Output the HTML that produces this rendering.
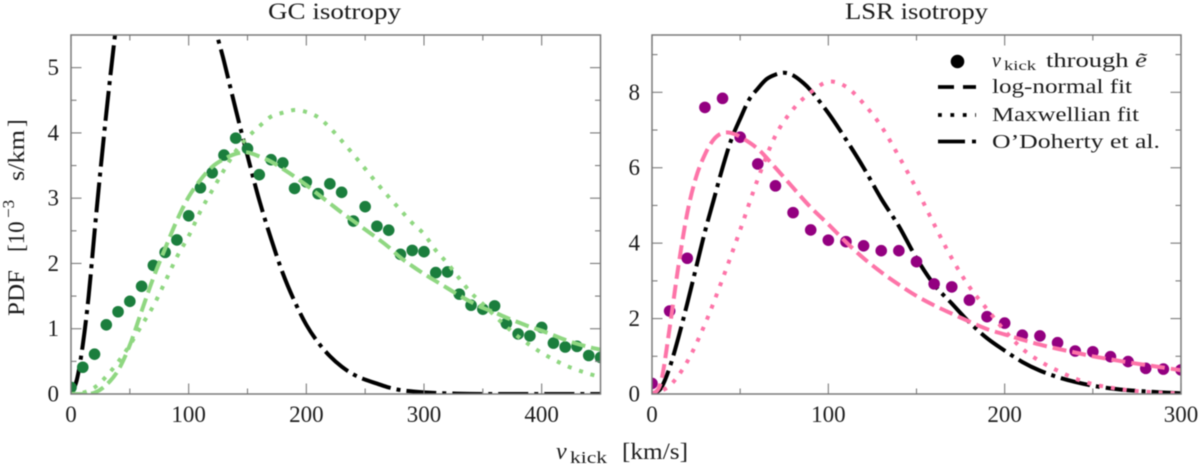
<!DOCTYPE html>
<html lang="en">
<head>
<meta charset="utf-8">
<title>Kick velocity PDF</title>
<style>
html,body{margin:0;padding:0;background:#fff;width:1200px;height:467px;overflow:hidden}
svg{display:block;filter:blur(0.4px)}
text{font-family:"Liberation Serif",serif;fill:#1c1c1c}
.tick{font-size:23px}
.leg{font-size:20px}
</style>
</head>
<body>
<svg id="chart" xmlns="http://www.w3.org/2000/svg" width="1200" height="467" viewBox="0 0 1200 467">
  <defs>
    <clipPath id="clip-left"><rect x="71" y="35" width="529.5" height="359"/></clipPath>
    <clipPath id="clip-right"><rect x="652" y="35" width="529" height="359"/></clipPath>
  </defs>
  <text x="268" y="19" font-size="23" textLength="133" lengthAdjust="spacingAndGlyphs">GC isotropy</text>
  <text x="845" y="19" font-size="23" textLength="143" lengthAdjust="spacingAndGlyphs">LSR isotropy</text>

  <g transform="translate(24,0) rotate(-90)">
    <text x="-316" y="0" font-size="23" textLength="46" lengthAdjust="spacingAndGlyphs">PDF</text>
    <text x="-252" y="0" font-size="23">[10</text>
    <text x="-218" y="-10" font-size="17">−3</text>
    <text x="-181" y="0" font-size="23" textLength="51" lengthAdjust="spacingAndGlyphs">s/km</text>
    <text x="-127" y="0" font-size="23">]</text>
  </g>

  <g>
    <text x="556" y="459" font-size="24" font-style="italic">v</text>
    <text x="570" y="463" font-size="17" textLength="37" lengthAdjust="spacingAndGlyphs">kick</text>
    <text x="622" y="459" font-size="23" textLength="66" lengthAdjust="spacingAndGlyphs">[km/s]</text>
  </g>

  <g id="left-panel"></g>
  <g id="right-panel"></g>

  <g>
    <circle cx="957.5" cy="61.5" r="6.8" fill="#000"/>
    <line x1="938" y1="87" x2="976" y2="87" stroke="#000" stroke-width="3.8" stroke-dasharray="16 9"/>
    <line x1="938" y1="115" x2="976" y2="115" stroke="#000" stroke-width="3.8" stroke-dasharray="3.8 8.6"/>
    <line x1="938" y1="141.5" x2="976" y2="141.5" stroke="#000" stroke-width="3.8" stroke-dasharray="27 7 4 30"/>
    <g>
      <text x="992" y="67" font-size="20" font-style="italic">v</text>
      <text x="1004" y="70" font-size="14" textLength="32" lengthAdjust="spacingAndGlyphs">kick</text>
      <text x="1046" y="67" class="leg" textLength="101" lengthAdjust="spacingAndGlyphs">through <tspan font-style="italic">ẽ</tspan></text>
    </g>
    <text x="992" y="93" class="leg" textLength="140" lengthAdjust="spacingAndGlyphs">log-normal fit</text>
    <text x="992" y="121" class="leg" textLength="147" lengthAdjust="spacingAndGlyphs">Maxwellian fit</text>
    <text x="992" y="148" class="leg" textLength="168" lengthAdjust="spacingAndGlyphs">O’Doherty et al.</text>
  </g>
</svg>
<script>
// ---------- GC isotropy data ----------
const gcDotSpeeds = [0,10,20,30,40,50,60,70,80,90,100,110,120,130,140,150,160,170,180,190,200,210,220,230,240,250,260,270,280,290,300,310,320,330,340,350,360,370,380,390,400,410,420,430,440,450];
const gcDotValues = [0.10,0.41,0.61,1.06,1.26,1.42,1.65,1.97,2.17,2.36,2.73,3.16,3.39,3.66,3.92,3.76,3.36,3.59,3.54,3.15,3.25,3.07,3.22,3.09,2.65,2.87,2.57,2.51,2.14,2.20,2.18,1.86,1.87,1.53,1.36,1.30,1.35,1.08,0.92,0.89,1.02,0.78,0.72,0.73,0.59,0.56];
const gcFitSpeeds = [0,10,20,30,40,50,60,70,80,90,100,110,120,130,140,150,160,170,180,190,200,210,220,230,240,250,260,270,280,290,300,310,320,330,340,350,360,370,380,390,400,410,420,430,440,450];
const gcLogNormal = [0,0,0.02,0.14,0.36,0.75,1.27,1.78,2.23,2.66,3.02,3.28,3.48,3.60,3.68,3.70,3.64,3.56,3.45,3.33,3.20,3.06,2.92,2.78,2.65,2.52,2.39,2.25,2.09,1.96,1.84,1.73,1.62,1.51,1.41,1.32,1.25,1.17,1.10,1.03,0.97,0.90,0.83,0.77,0.72,0.68];
const gcMaxwellian = [0,0.02,0.10,0.27,0.49,0.75,1.05,1.35,1.72,2.10,2.42,2.80,3.12,3.43,3.72,3.93,4.10,4.25,4.31,4.35,4.32,4.24,4.08,3.88,3.67,3.45,3.23,3.02,2.82,2.62,2.45,2.20,2.00,1.77,1.55,1.38,1.20,1.03,0.88,0.75,0.63,0.53,0.44,0.37,0.31,0.26];
const gcBlackSpeeds = [0,5,10,15,20,25,30,35,40,50,70,90,110,120,130,140,150,160,170,180,190,200,210,220,230,240,250,260,270,280,290,300,320,350,450];
const gcBlackValues = [0,0.22,0.75,1.50,2.48,3.42,4.30,5.12,5.85,7.00,8.60,8.60,6.80,5.80,5.10,4.36,3.65,2.97,2.38,1.85,1.42,1.06,0.79,0.58,0.42,0.30,0.22,0.16,0.10,0.06,0.04,0.025,0.01,0,0];
const gcXMajorTicks = [0,100,200,300,400];
const gcXMinorTicks = [50,150,250,350];
const gcYMajorTicks = [0,1,2,3,4,5];
const gcYMinorTicks = [0.5,1.5,2.5,3.5,4.5];

// ---------- LSR isotropy data ----------
const lsrDotSpeeds = [0,10,20,30,40,50,60,70,80,90,100,110,120,130,140,150,160,170,180,190,200,210,220,230,240,250,260,270,280,290,300];
const lsrDotValues = [0.28,2.20,3.60,7.60,7.84,6.81,6.10,5.52,4.81,4.35,4.08,4.04,3.93,3.80,3.80,3.51,2.92,2.84,2.49,2.05,1.88,1.56,1.54,1.36,1.14,1.12,0.99,0.86,0.68,0.66,0.64];
const lsrLogSpeeds = [0,5,10,15,20,25,30,35,40,45,50,60,70,80,90,100,110,120,130,140,150,160,170,180,190,200,210,220,230,240,250,260,270,280,290,300];
const lsrLogNormal = [0,0.30,1.75,3.40,4.80,5.75,6.35,6.75,6.92,6.92,6.82,6.50,6.00,5.47,4.95,4.50,4.03,3.60,3.23,2.90,2.60,2.35,2.13,1.92,1.72,1.58,1.44,1.31,1.20,1.10,1.00,0.92,0.84,0.77,0.70,0.63];
const lsrMaxSpeeds = [0,10,20,30,40,50,60,70,80,90,100,110,120,130,140,150,160,170,180,190,200,210,220,230,240,250,260,270,280,290,300];
const lsrMaxwellian = [0,0.22,0.86,1.85,3.05,4.35,5.70,6.85,7.55,8.00,8.28,8.15,7.70,7.10,6.30,5.44,4.50,3.60,2.84,2.25,1.68,1.20,0.87,0.62,0.41,0.26,0.17,0.10,0.06,0.03,0.02];
const lsrBlackSpeeds = [0,5,10,15,20,25,30,35,40,45,50,55,60,65,70,75,80,85,90,100,110,120,130,140,150,160,170,180,190,200,210,220,230,240,250,260,270,280,290,300];
const lsrBlackValues = [0,0.15,0.70,1.50,2.40,3.35,4.30,5.15,6.00,6.75,7.30,7.80,8.10,8.35,8.47,8.52,8.45,8.28,8.05,7.45,6.75,6.00,5.18,4.45,3.60,2.90,2.40,1.90,1.48,1.15,0.85,0.62,0.45,0.32,0.22,0.15,0.10,0.07,0.04,0.02];
const lsrXMajorTicks = [0,100,200,300];
const lsrXMinorTicks = [50,150,250];
const lsrYMajorTicks = [0,2,4,6,8];
const lsrYMinorTicks = [1,3,5,7,9];

const NS = 'http://www.w3.org/2000/svg';
const AXIS_COLOR = '#7a7a7a';

function mk(parent, tag, attrs) {
  const el = document.createElementNS(NS, tag);
  for (const k in attrs) el.setAttribute(k, attrs[k]);
  parent.appendChild(el);
  return el;
}

function smoothPath(xs, ys, sx, sy) {
  const p = xs.map((x, i) => [sx(x), sy(ys[i])]);
  let d = 'M' + p[0][0].toFixed(2) + ' ' + p[0][1].toFixed(2);
  for (let i = 0; i < p.length - 1; i++) {
    const a = p[Math.max(i - 1, 0)], b = p[i], c = p[i + 1], e = p[Math.min(i + 2, p.length - 1)];
    const c1x = b[0] + (c[0] - a[0]) / 6, c1y = b[1] + (c[1] - a[1]) / 6;
    const c2x = c[0] - (e[0] - b[0]) / 6, c2y = c[1] - (e[1] - b[1]) / 6;
    d += 'C' + c1x.toFixed(2) + ' ' + c1y.toFixed(2) + ' ' + c2x.toFixed(2) + ' ' + c2y.toFixed(2) + ' ' + c[0].toFixed(2) + ' ' + c[1].toFixed(2);
  }
  return d;
}

function drawPanel(cfg) {
  const g = cfg.group;
  const sx = v => cfg.left + v / cfg.xMax * (cfg.right - cfg.left);
  const sy = v => cfg.bottom - v / cfg.yMax * (cfg.bottom - cfg.top);
  const plot = mk(g, 'g', { 'clip-path': 'url(#' + cfg.clip + ')' });
  
  

  const black = mk(plot, 'path', { d: smoothPath(cfg.blackX, cfg.blackY, sx, sy), fill: 'none', stroke: '#000', 'stroke-width': 4, 'stroke-dasharray': '30 6 4 6' });
  
  

  const dots = mk(plot, 'g', { fill: cfg.dotColor });
  
  
  cfg.dotX.forEach((x, i) => {
    const c = mk(dots, 'circle', { cx: sx(x), cy: sy(cfg.dotY[i]), r: 5.8 });
    
    
  });

  const logn = mk(plot, 'path', { d: smoothPath(cfg.logX, cfg.logY, sx, sy), fill: 'none', stroke: cfg.fitColor, 'stroke-width': 4, 'stroke-dasharray': '14 6' });
  
  

  const maxw = mk(plot, 'path', { d: smoothPath(cfg.maxX, cfg.maxY, sx, sy), fill: 'none', stroke: cfg.fitColor, 'stroke-width': 4, 'stroke-dasharray': '4 8' });
  
  

  const ticks = mk(g, 'g', { stroke: AXIS_COLOR, 'stroke-width': 1.1 });
  
  
  const xt = (v, len) => {
    mk(ticks, 'line', { x1: sx(v), x2: sx(v), y1: cfg.bottom, y2: cfg.bottom - len });
    mk(ticks, 'line', { x1: sx(v), x2: sx(v), y1: cfg.top, y2: cfg.top + len });
  };
  const yt = (v, len) => {
    mk(ticks, 'line', { y1: sy(v), y2: sy(v), x1: cfg.left, x2: cfg.left + len });
    mk(ticks, 'line', { y1: sy(v), y2: sy(v), x1: cfg.right, x2: cfg.right - len });
  };
  cfg.xMajor.forEach(v => xt(v, 10.5));
  cfg.xMinor.forEach(v => xt(v, 5.5));
  cfg.yMajor.forEach(v => yt(v, 10.5));
  cfg.yMinor.forEach(v => yt(v, 5.5));

  const frame = mk(g, 'rect', { x: cfg.left, y: cfg.top, width: cfg.right - cfg.left, height: cfg.bottom - cfg.top, fill: 'none', stroke: AXIS_COLOR, 'stroke-width': 1.5 });
  
  

  cfg.xMajor.forEach(v => {
    const t = mk(g, 'text', { x: sx(v), y: 422, 'text-anchor': 'middle', class: 'tick' });
    
    
    t.textContent = v;
  });
  cfg.yMajor.forEach(v => {
    const t = mk(g, 'text', { x: cfg.left - 12, y: sy(v) + 7.5, 'text-anchor': 'end', class: 'tick' });
    
    
    t.textContent = v;
  });
}

drawPanel({
  group: document.getElementById('left-panel'), prefix: 'gc', clip: 'clip-left',
  left: 71, right: 600.5, top: 35, bottom: 394, xMax: 450, yMax: 5.5,
  dotColor: '#1b7e3d', fitColor: '#8fd781',
  dotX: gcDotSpeeds, dotY: gcDotValues,
  logX: gcFitSpeeds, logY: gcLogNormal,
  maxX: gcFitSpeeds, maxY: gcMaxwellian,
  blackX: gcBlackSpeeds, blackY: gcBlackValues,
  xMajor: gcXMajorTicks, xMinor: gcXMinorTicks, yMajor: gcYMajorTicks, yMinor: gcYMinorTicks
});
drawPanel({
  group: document.getElementById('right-panel'), prefix: 'lsr', clip: 'clip-right',
  left: 652, right: 1181, top: 35, bottom: 394, xMax: 300, yMax: 9.52,
  dotColor: '#930080', fitColor: '#fd74a8',
  dotX: lsrDotSpeeds, dotY: lsrDotValues,
  logX: lsrLogSpeeds, logY: lsrLogNormal,
  maxX: lsrMaxSpeeds, maxY: lsrMaxwellian,
  blackX: lsrBlackSpeeds, blackY: lsrBlackValues,
  xMajor: lsrXMajorTicks, xMinor: lsrXMinorTicks, yMajor: lsrYMajorTicks, yMinor: lsrYMinorTicks
});
</script>
</body>
</html>
